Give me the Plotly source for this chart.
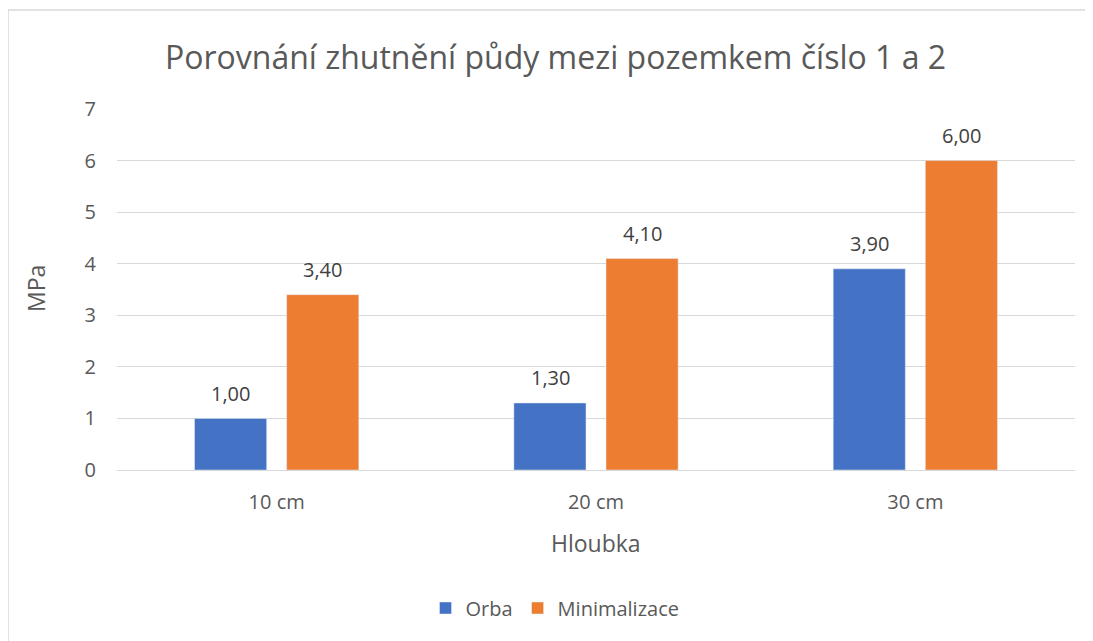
import plotly.graph_objects as go

categories = ["10 cm", "20 cm", "30 cm"]
orba = [1.00, 1.30, 3.90]
minimalizace = [3.40, 4.10, 6.00]
y_ticks = [0, 1, 2, 3, 4, 5, 6, 7]

FONT = "Open Sans"
OFF = 8  # page body margin
W, H = 1093 - OFF, 641 - OFF
# reference pixel geometry of plot area
X0, X1, Y7, Y0 = 117, 1075, 109, 470
L, R, T, B = X0 - OFF, W - (X1 - OFF), Y7 - OFF, H - (Y0 - OFF)
pw = X1 - X0
ph = Y0 - Y7

def px(x):
    return (x - X0) / pw

def py(y):
    return (Y0 - y) / ph

fig = go.Figure()
fig.add_trace(go.Bar(x=categories, y=orba, name="Orba", marker_color="#4472C4"))
fig.add_trace(go.Bar(x=categories, y=minimalizace, name="Minimalizace", marker_color="#ED7D31"))

annotations = []
for vals, shift in ((orba, -46), (minimalizace, 46)):
    for c, v in zip(categories, vals):
        annotations.append(dict(
            x=c, y=v, xref="x", yref="y", text=f"{v:.2f}".replace(".", ","),
            showarrow=False, xshift=shift, yshift=25, xanchor="center", yanchor="middle",
            font=dict(family=FONT, size=20, color="#404040")))

annotations += [
    dict(text="Hloubka", xref="paper", yref="paper", x=px(596), y=py(543),
         xanchor="center", yanchor="middle", showarrow=False,
         font=dict(family=FONT, size=23, color="#595959")),
    dict(text="MPa", xref="paper", yref="paper", x=px(36), y=py(289),
         xanchor="center", yanchor="middle", showarrow=False, textangle=-90,
         font=dict(family=FONT, size=23, color="#595959")),
]

fig.update_layout(
    width=W, height=H,
    margin=dict(l=L, r=R, t=T, b=B),
    paper_bgcolor="white", plot_bgcolor="white",
    separators=", ",
    barmode="group", bargap=0.423, bargroupgap=0.217,
    font=dict(family=FONT, color="#595959"),
    title=dict(text="Porovnání zhutnění půdy mezi pozemkem číslo 1 a 2",
               x=(555.5 - OFF) / W, xanchor="center", y=1 - (58 - OFF) / H, yanchor="middle",
               font=dict(family=FONT, size=32, color="#595959")),
    showlegend=True,
    legend=dict(orientation="h", x=px(555), xanchor="center", y=py(608), yanchor="middle",
                font=dict(family=FONT, size=20, color="#595959"), itemwidth=30),
    xaxis=dict(showgrid=False, showline=False, ticks="", ticklabelstandoff=18,
               tickfont=dict(family=FONT, size=20, color="#595959")),
    yaxis=dict(range=[0, 7], tickvals=y_ticks, showgrid=True, gridcolor="#D9D9D9",
               gridwidth=1, zeroline=True, zerolinecolor="#D9D9D9", zerolinewidth=1,
               ticks="", ticklabelstandoff=20,
               tickfont=dict(family=FONT, size=20, color="#595959")),
    annotations=annotations,
    shapes=[
        dict(type="line", xref="paper", yref="paper", x0=px(8), x1=px(1093), y0=py(10), y1=py(10),
             line=dict(color="#D9D9D9", width=1.5)),
        dict(type="line", xref="paper", yref="paper", x0=px(8), x1=px(8), y0=py(10), y1=py(641),
             line=dict(color="#D9D9D9", width=1.5)),
    ],
)

fig.write_html("out.html")
